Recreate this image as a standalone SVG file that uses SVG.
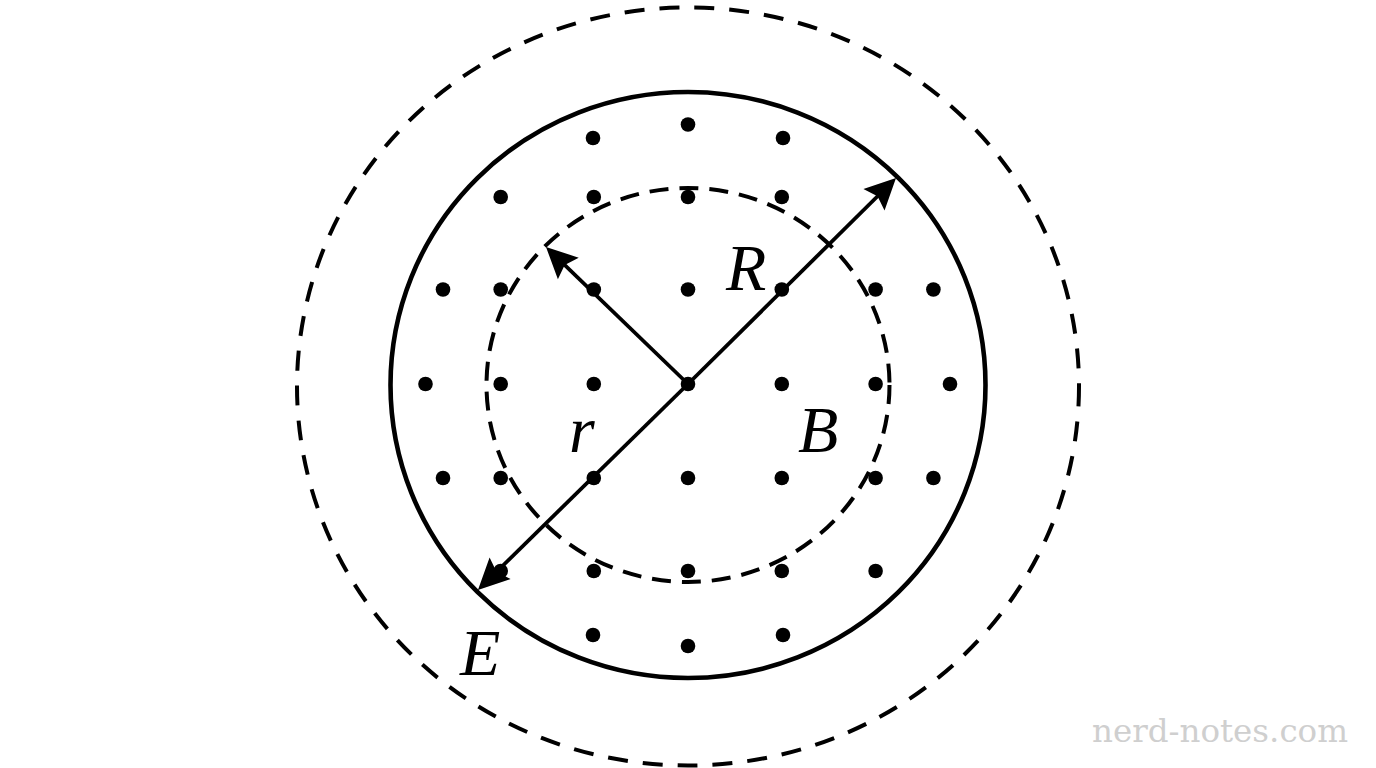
<svg xmlns="http://www.w3.org/2000/svg" width="1376" height="768" viewBox="0 0 1376 768">
<style>
.dash-outer{fill:none;stroke:#000;stroke-width:4;stroke-dasharray:20 15}
.dash-inner{fill:none;stroke:#000;stroke-width:4;stroke-dasharray:19 11}
.solid{fill:none;stroke:#000;stroke-width:4.6}
.arrow{stroke:#000;stroke-width:3.8;fill:none;marker-end:url(#ah)}
.dot{fill:#000}
.lbl{font-family:"Liberation Serif","DejaVu Serif",serif;font-style:italic;font-size:66px;fill:#000}
.wm{font-family:"DejaVu Serif","Liberation Serif",serif;font-size:32px;fill:#cfcfcf}
</style>
<defs>
<marker id="ah" markerUnits="userSpaceOnUse" markerWidth="60" markerHeight="60" viewBox="-30 -30 60 60" refX="0" refY="0" orient="auto" overflow="visible">
<path d="M10,0 L-21,-15 L-16,0 L-21,15 Z" fill="#000"/>
</marker>
</defs>
<rect width="1376" height="768" fill="#fff"/>
<g id="outer-dashed">
<ellipse class="dash-outer" cx="688" cy="386.5" rx="391" ry="379"/>
</g>
<g id="solid-circle">
<ellipse class="solid" cx="688" cy="385" rx="297.5" ry="293"/>
</g>
<g id="inner-dashed">
<ellipse class="dash-inner" cx="688" cy="385" rx="201.5" ry="197"/>
</g>
<g id="dots">
<circle class="dot" cx="593" cy="138" r="7.3"/><circle class="dot" cx="688" cy="124.5" r="7.3"/><circle class="dot" cx="783" cy="138" r="7.3"/>
<circle class="dot" cx="500.7" cy="197" r="7.3"/><circle class="dot" cx="593.8" cy="197" r="7.3"/><circle class="dot" cx="688" cy="197" r="7.3"/><circle class="dot" cx="781.8" cy="197" r="7.3"/>
<circle class="dot" cx="443" cy="289.5" r="7.3"/><circle class="dot" cx="500.7" cy="289.5" r="7.3"/><circle class="dot" cx="593.8" cy="289.5" r="7.3"/><circle class="dot" cx="688" cy="289.5" r="7.3"/><circle class="dot" cx="781.8" cy="289.5" r="7.3"/><circle class="dot" cx="875.6" cy="289.5" r="7.3"/><circle class="dot" cx="933.4" cy="289.5" r="7.3"/>
<circle class="dot" cx="425.5" cy="384" r="7.3"/><circle class="dot" cx="500.7" cy="384" r="7.3"/><circle class="dot" cx="593.8" cy="384" r="7.3"/><circle class="dot" cx="688" cy="384" r="7.3"/><circle class="dot" cx="781.8" cy="384" r="7.3"/><circle class="dot" cx="875.6" cy="384" r="7.3"/><circle class="dot" cx="950" cy="384" r="7.3"/>
<circle class="dot" cx="443" cy="478" r="7.3"/><circle class="dot" cx="500.7" cy="478" r="7.3"/><circle class="dot" cx="593.8" cy="478" r="7.3"/><circle class="dot" cx="688" cy="478" r="7.3"/><circle class="dot" cx="781.8" cy="478" r="7.3"/><circle class="dot" cx="875.6" cy="478" r="7.3"/><circle class="dot" cx="933.4" cy="478" r="7.3"/>
<circle class="dot" cx="500.7" cy="571" r="7.3"/><circle class="dot" cx="593.8" cy="571" r="7.3"/><circle class="dot" cx="688" cy="571" r="7.3"/><circle class="dot" cx="781.8" cy="571" r="7.3"/><circle class="dot" cx="875.6" cy="571" r="7.3"/>
<circle class="dot" cx="593" cy="635" r="7.3"/><circle class="dot" cx="688" cy="646" r="7.3"/><circle class="dot" cx="783" cy="635" r="7.3"/>
</g>
<g id="connectors">
<line class="arrow" x1="688" y1="384" x2="888.9" y2="185"/>
<line class="arrow" x1="688" y1="384" x2="485.1" y2="583"/>
<line class="arrow" x1="688" y1="384" x2="553.2" y2="253.9"/>
</g>
<g id="labels">
<text class="lbl" x="726" y="290">R</text>
<text class="lbl" x="569" y="452">r</text>
<text class="lbl" x="798" y="452">B</text>
<text class="lbl" x="460" y="675">E</text>
</g>
<g id="watermark">
<text class="wm" x="1092" y="742" textLength="256" lengthAdjust="spacingAndGlyphs">nerd-notes.com</text>
</g>
</svg>
